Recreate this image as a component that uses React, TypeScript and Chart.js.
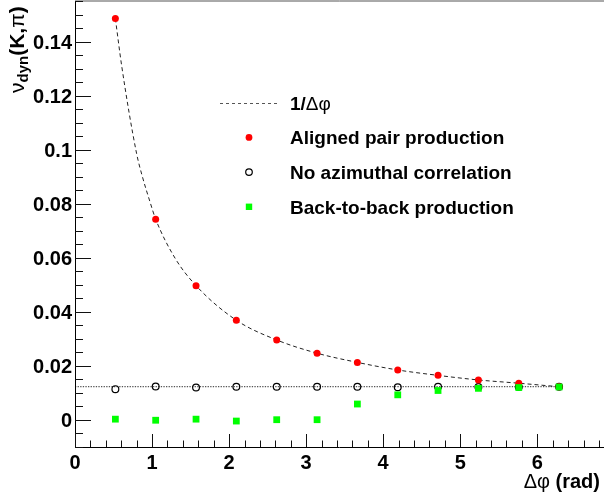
import React, { useEffect, useRef } from 'react';
import { Chart, registerables } from 'chart.js';

Chart.register(...registerables);

// ---- data ----
const dphi = [0.524, 1.047, 1.571, 2.094, 2.618, 3.142, 3.665, 4.189, 4.712, 5.236, 5.76, 6.283];
const aligned = [0.1485, 0.0743, 0.0497, 0.0369, 0.0296, 0.0247, 0.0213, 0.0185, 0.0165, 0.0148, 0.0136, 0.0123];
const noCorr = [0.0114, 0.0124, 0.012, 0.0123, 0.0123, 0.0123, 0.0123, 0.0121, 0.0123, 0.0122, 0.0122, 0.0123];
const backToBack = [0.0003, -0.0001, 0.0003, -0.0004, 0.0001, 0.0001, 0.0059, 0.0093, 0.0109, 0.0117, 0.012, 0.0122];
// dashed 1/Δφ curve
const curveDphi = [0.524, 0.606, 0.8, 0.87, 0.97, 1.047, 1.3, 1.571, 2.094, 2.618, 3.142, 3.665, 4.189, 4.712, 5.236, 5.76, 6.283];
const curveVal = [0.1485, 0.131, 0.0985, 0.0905, 0.081, 0.0743, 0.0598, 0.0497, 0.0369, 0.0296, 0.0247, 0.0213, 0.0185, 0.0165, 0.0148, 0.0136, 0.0123];
const flatLevel = 0.0123;
const flatRange = [0, 6.283];

const xMajorTicks = [0, 1, 2, 3, 4, 5, 6];
const xTickLabels = ['0', '1', '2', '3', '4', '5', '6'];
const yMajorTicks = [0, 0.02, 0.04, 0.06, 0.08, 0.1, 0.12, 0.14];
const yTickLabels = ['0', '0.02', '0.04', '0.06', '0.08', '0.1', '0.12', '0.14'];
const xMinorStep = 0.2;
const yMinorStep = 0.005;
const xRange = [0, 6.866];
const yRange = [-0.01, 0.155];

const legendLabels = ['1/Δφ', 'Aligned pair production', 'No azimuthal correlation', 'Back-to-back production'];

const RED = '#ff0000';
const GREEN = '#00ff00';
const FONT = '"Liberation Sans", Arial, Helvetica, sans-serif';

type Seg = { t: string; font: string; dy?: number };

function drawRich(ctx: CanvasRenderingContext2D, segs: Seg[], x: number, y: number, align: 'left' | 'right' | 'center') {
  let total = 0;
  for (const s of segs) {
    ctx.font = s.font;
    total += ctx.measureText(s.t).width;
  }
  let cx = align === 'left' ? x : align === 'right' ? x - total : x - total / 2;
  ctx.textAlign = 'left';
  ctx.textBaseline = 'alphabetic';
  for (const s of segs) {
    ctx.font = s.font;
    ctx.fillText(s.t, cx, y + (s.dy || 0));
    cx += ctx.measureText(s.t).width;
  }
}

const rootPlugin = {
  id: 'rootFrame',
  afterDraw(chart: any) {
    const ctx: CanvasRenderingContext2D = chart.ctx;
    const { left, right, top, bottom } = chart.chartArea;
    const xs = chart.scales.x;
    const ys = chart.scales.y;
    ctx.save();

    // frame
    ctx.strokeStyle = '#000';
    ctx.lineWidth = 1;
    ctx.beginPath();
    ctx.moveTo(left + 0.5, bottom + 0.5);
    ctx.lineTo(left + 0.5, top);
    ctx.moveTo(left, bottom + 0.5);
    ctx.lineTo(right, bottom + 0.5);
    ctx.stroke();
    ctx.strokeStyle = '#555';
    ctx.beginPath();
    ctx.moveTo(left, top);
    ctx.lineTo(right, top);
    ctx.stroke();

    // y ticks
    ctx.strokeStyle = '#111';
    ctx.beginPath();
    const nY = Math.round((yRange[1] - yRange[0]) / yMinorStep);
    for (let i = 0; i <= nY; i++) {
      const v = yRange[0] + i * yMinorStep;
      const isMajor = Math.abs(v / 0.02 - Math.round(v / 0.02)) < 1e-6;
      const py = Math.round(ys.getPixelForValue(v)) + 0.5;
      ctx.moveTo(left, py);
      ctx.lineTo(left + (isMajor ? 16 : 8), py);
    }
    // x ticks
    const nX = Math.floor((xRange[1] - xRange[0]) / xMinorStep + 1e-6);
    for (let i = 0; i <= nX; i++) {
      const v = xRange[0] + i * xMinorStep;
      const isMajor = Math.abs(v - Math.round(v)) < 1e-6;
      const px = Math.round(xs.getPixelForValue(v)) + 0.5;
      ctx.moveTo(px, bottom);
      ctx.lineTo(px, bottom - (isMajor ? 13 : 6.5));
    }
    ctx.stroke();

    // tick labels
    ctx.fillStyle = '#000';
    ctx.font = `bold 20px ${FONT}`;
    ctx.textBaseline = 'alphabetic';
    ctx.textAlign = 'right';
    yMajorTicks.forEach((v, i) => {
      ctx.fillText(yTickLabels[i], left - 3, ys.getPixelForValue(v) + 7.5);
    });
    ctx.textAlign = 'center';
    xMajorTicks.forEach((v, i) => {
      ctx.fillText(xTickLabels[i], xs.getPixelForValue(v), bottom + 21.5);
    });

    // x title
    drawRich(
      ctx,
      [
        { t: 'Δφ', font: `20px ${FONT}` },
        { t: ' (rad)', font: `bold 20px ${FONT}` },
      ],
      600,
      bottom + 41,
      'right'
    );

    // y title (rotated)
    ctx.save();
    ctx.translate(24, 0);
    ctx.rotate(-Math.PI / 2);
    drawRich(
      ctx,
      [
        { t: 'ν', font: `21px ${FONT}` },
        { t: 'dyn', font: `bold 15px ${FONT}`, dy: 4 },
        { t: '(K,', font: `bold 21px ${FONT}` },
        { t: 'π', font: `21px ${FONT}` },
        { t: ')', font: `bold 21px ${FONT}` },
      ],
      -93,
      0,
      'left'
    );
    ctx.restore();

    // legend
    const lx = 249;
    const tx = 290;
    const ly0 = 102.7;
    const dy = 34.7;
    // row 0: dashed line
    ctx.strokeStyle = '#555';
    ctx.lineWidth = 1;
    ctx.setLineDash([3, 3]);
    ctx.beginPath();
    ctx.moveTo(220, Math.round(ly0) + 0.5);
    ctx.lineTo(278, Math.round(ly0) + 0.5);
    ctx.stroke();
    ctx.setLineDash([]);
    drawRich(
      ctx,
      [
        { t: '1/', font: `bold 19px ${FONT}` },
        { t: 'Δφ', font: `19px ${FONT}` },
      ],
      tx,
      ly0 + 7,
      'left'
    );
    // row 1: red dot
    const y1 = ly0 + dy;
    ctx.fillStyle = RED;
    ctx.beginPath();
    ctx.arc(lx, y1, 3.4, 0, Math.PI * 2);
    ctx.fill();
    // row 2: open circle
    const y2 = ly0 + 2 * dy;
    ctx.strokeStyle = '#000';
    ctx.lineWidth = 1.2;
    ctx.beginPath();
    ctx.arc(lx, y2, 3.3, 0, Math.PI * 2);
    ctx.stroke();
    // row 3: green square
    const y3 = ly0 + 3 * dy;
    ctx.fillStyle = GREEN;
    ctx.fillRect(lx - 3.2, y3 - 3.2, 6.4, 6.4);

    ctx.fillStyle = '#000';
    ctx.font = `bold 19px ${FONT}`;
    ctx.textAlign = 'left';
    ctx.textBaseline = 'alphabetic';
    ctx.fillText(legendLabels[1], tx, y1 + 7);
    ctx.fillText(legendLabels[2], tx, y2 + 7);
    ctx.fillText(legendLabels[3], tx, y3 + 7);

    ctx.restore();
  },
};

export default function App() {
  const ref = useRef<HTMLCanvasElement>(null);
  useEffect(() => {
    const canvas = ref.current!;
    const pts = (ys: number[]) => dphi.map((x, i) => ({ x, y: ys[i] }));
    const chart = new Chart(canvas, {
      type: 'scatter',
      data: {
        datasets: [
          {
            label: legendLabels[3],
            data: pts(backToBack),
            pointStyle: 'rect',
            pointRadius: 4.8,
            backgroundColor: GREEN,
            borderColor: GREEN,
            borderWidth: 0,
            showLine: false,
            order: 0,
          },
          {
            label: legendLabels[1],
            data: pts(aligned),
            pointStyle: 'circle',
            pointRadius: 3.5,
            backgroundColor: RED,
            borderColor: RED,
            borderWidth: 0,
            showLine: false,
            order: 1,
          },
          {
            label: legendLabels[2],
            data: pts(noCorr),
            pointStyle: 'circle',
            pointRadius: 3.4,
            backgroundColor: 'rgba(0,0,0,0)',
            borderColor: '#000',
            borderWidth: 1.2,
            showLine: false,
            order: 2,
          },
          {
            label: legendLabels[0],
            data: curveDphi.map((x, i) => ({ x, y: curveVal[i] })),
            pointRadius: 0,
            showLine: true,
            borderColor: '#222',
            borderWidth: 1,
            borderDash: [4, 3],
            cubicInterpolationMode: 'monotone',
            fill: false,
            order: 3,
          },
          {
            label: 'flat',
            data: flatRange.map((x) => ({ x, y: flatLevel })),
            pointRadius: 0,
            showLine: true,
            borderColor: '#555',
            borderWidth: 1.2,
            borderDash: [1.3, 1.3],
            fill: false,
            order: 4,
          },
        ],
      },
      options: {
        responsive: false,
        animation: false,
        devicePixelRatio: 1,
        events: [],
        layout: { autoPadding: false, padding: { left: 75, top: 1, right: 0, bottom: 50 } },
        scales: {
          x: { type: 'linear', min: xRange[0], max: xRange[1], display: false },
          y: { type: 'linear', min: yRange[0], max: yRange[1], display: false },
        },
        plugins: { legend: { display: false }, tooltip: { enabled: false } },
      },
      plugins: [rootPlugin],
    } as any);
    return () => chart.destroy();
  }, []);
  return (
    <canvas
      ref={ref}
      width={604}
      height={497}
      style={{ position: 'absolute', left: 0, top: 0, width: 604, height: 497 }}
    />
  );
}
